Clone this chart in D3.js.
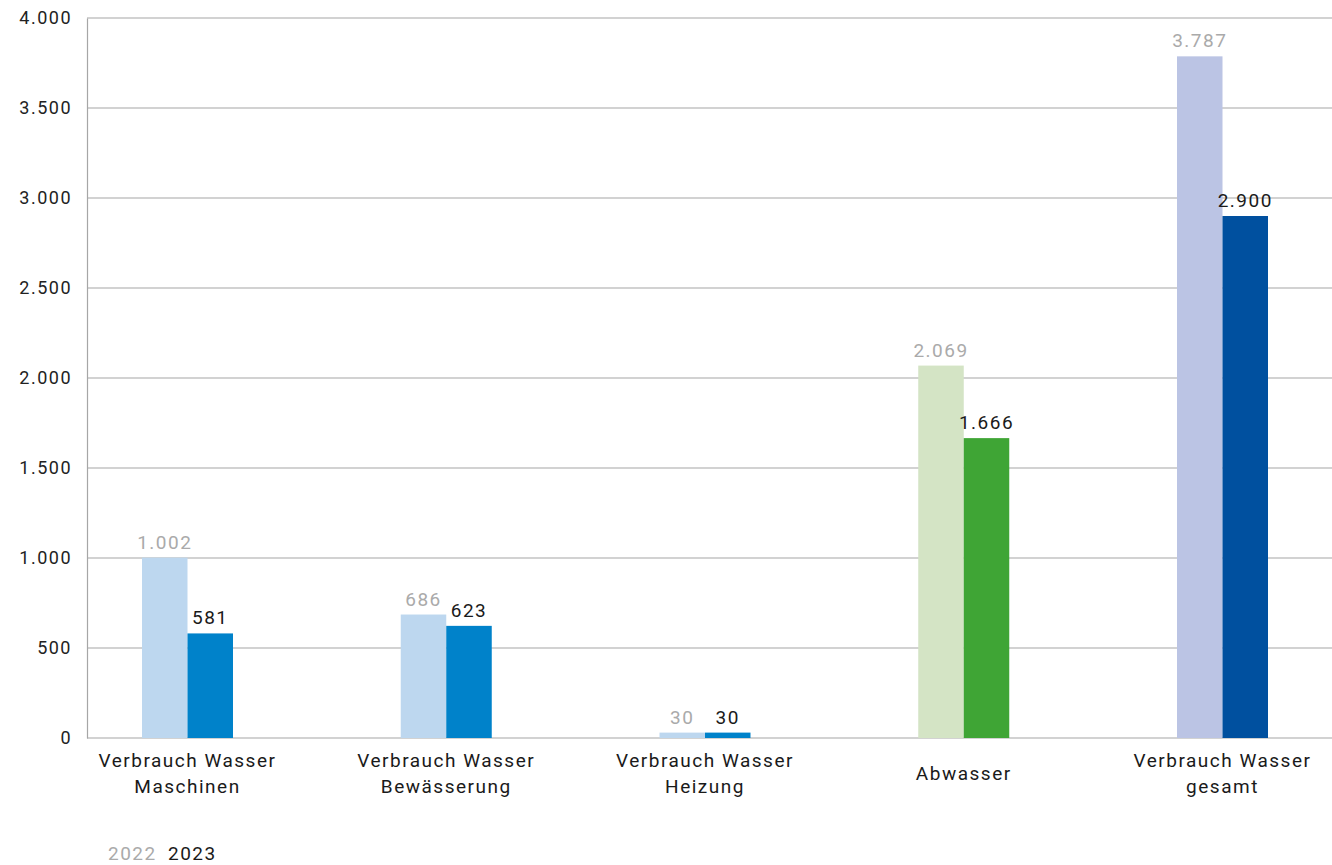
<!DOCTYPE html>
<html>
<head>
<meta charset="utf-8">
<script src="https://cdn.jsdelivr.net/npm/d3@7"></script>
<style>
  body { margin: 0; background: #fff; }
  text { font-family: Roboto, "DejaVu Sans", sans-serif; letter-spacing: 1.5px; }
</style>
</head>
<body>
<div id="chart"></div>
<script>
var categories = [
  ["Verbrauch Wasser", "Maschinen"],
  ["Verbrauch Wasser", "Bewässerung"],
  ["Verbrauch Wasser", "Heizung"],
  ["Abwasser"],
  ["Verbrauch Wasser", "gesamt"]
];
var years = ["2022", "2023"];
var values2022 = [1002, 686, 30, 2069, 3787];
var values2023 = [581, 623, 30, 1666, 2900];
var colors2022 = ["#bdd7ef", "#bdd7ef", "#bdd7ef", "#d4e4c5", "#bbc4e4"];
var colors2023 = ["#0082ca", "#0082ca", "#0082ca", "#3fa535", "#00509f"];
var yTicks = [0, 500, 1000, 1500, 2000, 2500, 3000, 3500, 4000];

var width = 1332, height = 865;
var fmt = d3.formatLocale({decimal: ",", thousands: ".", grouping: [3], currency: ["", "€"]}).format(",");

var svg = d3.select("#chart")
  .append("svg")
    .attr("width", width)
    .attr("height", height);

var idx = d3.range(categories.length);

var x0 = d3.scalePoint()
  .domain(idx)
  .range([187.5, 1222.5]);
var x1 = d3.scaleBand()
  .domain(years)
  .range([-45.5, 45.5]);

var y = d3.scaleLinear()
  .domain([0, 4000])
  .range([738, 18]);

// gridlines
svg.append("g")
  .selectAll("line")
  .data(yTicks)
  .join("line")
    .attr("x1", 87)
    .attr("x2", width)
    .attr("y1", d => y(d))
    .attr("y2", d => y(d))
    .attr("stroke", "#a6a6a6")
    .attr("stroke-width", 1.2);

// y axis
var yAxis = svg.append("g")
  .attr("transform", "translate(87,0)")
  .call(d3.axisLeft(y).tickValues(yTicks).tickSize(0).tickPadding(15).tickFormat(fmt));
yAxis.select(".domain").attr("stroke", "#a6a6a6").attr("stroke-width", 1.2);
yAxis.selectAll("text")
  .attr("font-size", 18)
  .attr("fill", "#222")
  .attr("font-family", "Roboto, sans-serif");

// bars
var series = [values2022, values2023];
var cols = [colors2022, colors2023];
years.forEach(function(yr, s) {
  var g = svg.append("g");
  g.selectAll("rect")
    .data(idx)
    .join("rect")
      .attr("x", i => x0(i) + x1(yr))
      .attr("y", i => y(series[s][i]))
      .attr("width", x1.bandwidth())
      .attr("height", i => y(0) - y(series[s][i]))
      .attr("fill", i => cols[s][i]);
  g.selectAll("text")
    .data(idx)
    .join("text")
      .attr("x", i => x0(i) + x1(yr) + x1.bandwidth() / 2)
      .attr("y", i => y(series[s][i]) - 9)
      .attr("text-anchor", "middle")
      .attr("font-size", 19)
      .attr("fill", s === 0 ? "#aaaaaa" : "#1a1a1a")
      .text(i => fmt(series[s][i]));
});

// category labels
var cl = svg.append("g");
idx.forEach(function(i) {
  var lines = categories[i];
  var t = cl.append("text")
    .attr("x", x0(i))
    .attr("text-anchor", "middle")
    .attr("font-size", 19)
    .attr("letter-spacing", "1.8px")
    .attr("fill", "#1a1a1a");
  if (lines.length === 1) {
    t.attr("y", 780).text(lines[0]);
  } else {
    lines.forEach(function(l, k) {
      t.append("tspan")
        .attr("x", x0(i))
        .attr("y", 767 + k * 26)
        .text(l);
    });
  }
});

// legend
svg.append("text")
  .attr("x", 108).attr("y", 860)
  .attr("font-size", 19).attr("fill", "#aaaaaa")
  .text(years[0]);
svg.append("text")
  .attr("x", 168).attr("y", 860)
  .attr("font-size", 19).attr("fill", "#1a1a1a")
  .text(years[1]);
</script>
</body>
</html>
